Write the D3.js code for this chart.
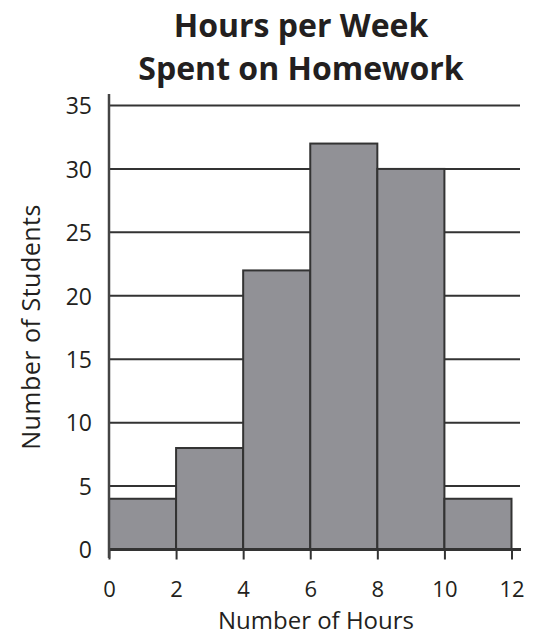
<!DOCTYPE html>
<html>
<head>
<meta charset="utf-8">
<script src="https://cdn.jsdelivr.net/npm/d3@7"></script>
<style>
  body { margin: 0; background: #fff; }
  text { font-family: "Open Sans", sans-serif; fill: #231f20; }
</style>
</head>
<body>
<div></div>
<script>
// histogram bins (hours) and counts
var binStarts = [0, 2, 4, 6, 8, 10];
var binWidth = 2;
var counts = [4, 8, 22, 32, 30, 4];
var xTicks = [0, 2, 4, 6, 8, 10, 12];
var yTicks = [0, 5, 10, 15, 20, 25, 30, 35];
var titleLines = ["Hours per Week", "Spent on Homework"];

var width = 543, height = 635;
var font = "'Open Sans', sans-serif";

var svg = d3.select("div")
  .append("svg")
  .attr("width", width)
  .attr("height", height);

var x = d3.scaleLinear().domain([0, 12]).range([109, 511.5]);
var y = d3.scaleLinear().domain([0, 35]).range([549.5, 105.5]);

// gridlines
svg.selectAll("line.grid")
  .data(yTicks.filter(function(d) { return d > 0; }))
  .enter()
  .append("line")
  .attr("class", "grid")
  .attr("x1", x(0))
  .attr("x2", 520)
  .attr("y1", function(d) { return y(d); })
  .attr("y2", function(d) { return y(d); })
  .style("stroke", "#333")
  .style("stroke-width", 2);

// bars
svg.selectAll("rect")
  .data(counts)
  .enter()
  .append("rect")
  .attr("x", function(d, i) { return x(binStarts[i]); })
  .attr("width", function(d, i) { return x(binStarts[i] + binWidth) - x(binStarts[i]); })
  .attr("y", function(d) { return y(d); })
  .attr("height", function(d) { return y(0) - y(d); })
  .style("fill", "#919196")
  .style("stroke", "#333")
  .style("stroke-width", 2);

// x axis
var xAxis = svg.append("g")
  .attr("transform", "translate(0," + y(0) + ")")
  .call(d3.axisBottom(x).tickValues(xTicks).tickSize(10).tickPadding(14));
xAxis.select(".domain").remove();
xAxis.append("line")
  .attr("x1", x(0)).attr("x2", 521)
  .style("stroke", "#333").style("stroke-width", 3);
xAxis.selectAll(".tick line").style("stroke", "#333").style("stroke-width", 2);
xAxis.selectAll(".tick text")
  .attr("y", 47)
  .attr("dy", null)
  .style("font-size", "22px")
  .style("font-family", font)
  .style("fill", "#231f20");

// y axis
var yAxis = svg.append("g")
  .attr("transform", "translate(" + x(0) + ",0)")
  .call(d3.axisLeft(y).tickValues(yTicks).tickSize(0).tickPadding(17));
yAxis.select(".domain").remove();
yAxis.append("line")
  .attr("y1", 94).attr("y2", 558)
  .style("stroke", "#444").style("stroke-width", 2.5);
yAxis.selectAll(".tick text")
  .attr("dy", "0.36em")
  .style("font-size", "23px")
  .style("font-family", font)
  .style("fill", "#231f20");

// axis titles
svg.append("text")
  .attr("x", 316)
  .attr("y", 629)
  .attr("text-anchor", "middle")
  .style("font-size", "24px")
  .text("Number of Hours");

svg.append("text")
  .attr("transform", "translate(40,327) rotate(-90)")
  .attr("text-anchor", "middle")
  .style("font-size", "25px")
  .style("letter-spacing", "0.5px")
  .text("Number of Students");

// title
svg.selectAll("text.title")
  .data(titleLines)
  .enter()
  .append("text")
  .attr("class", "title")
  .attr("x", 301)
  .attr("y", function(d, i) { return 37 + i * 43; })
  .attr("text-anchor", "middle")
  .style("font-size", "32px")
  .style("font-weight", "bold")
  .text(function(d) { return d; });
</script>
</body>
</html>
